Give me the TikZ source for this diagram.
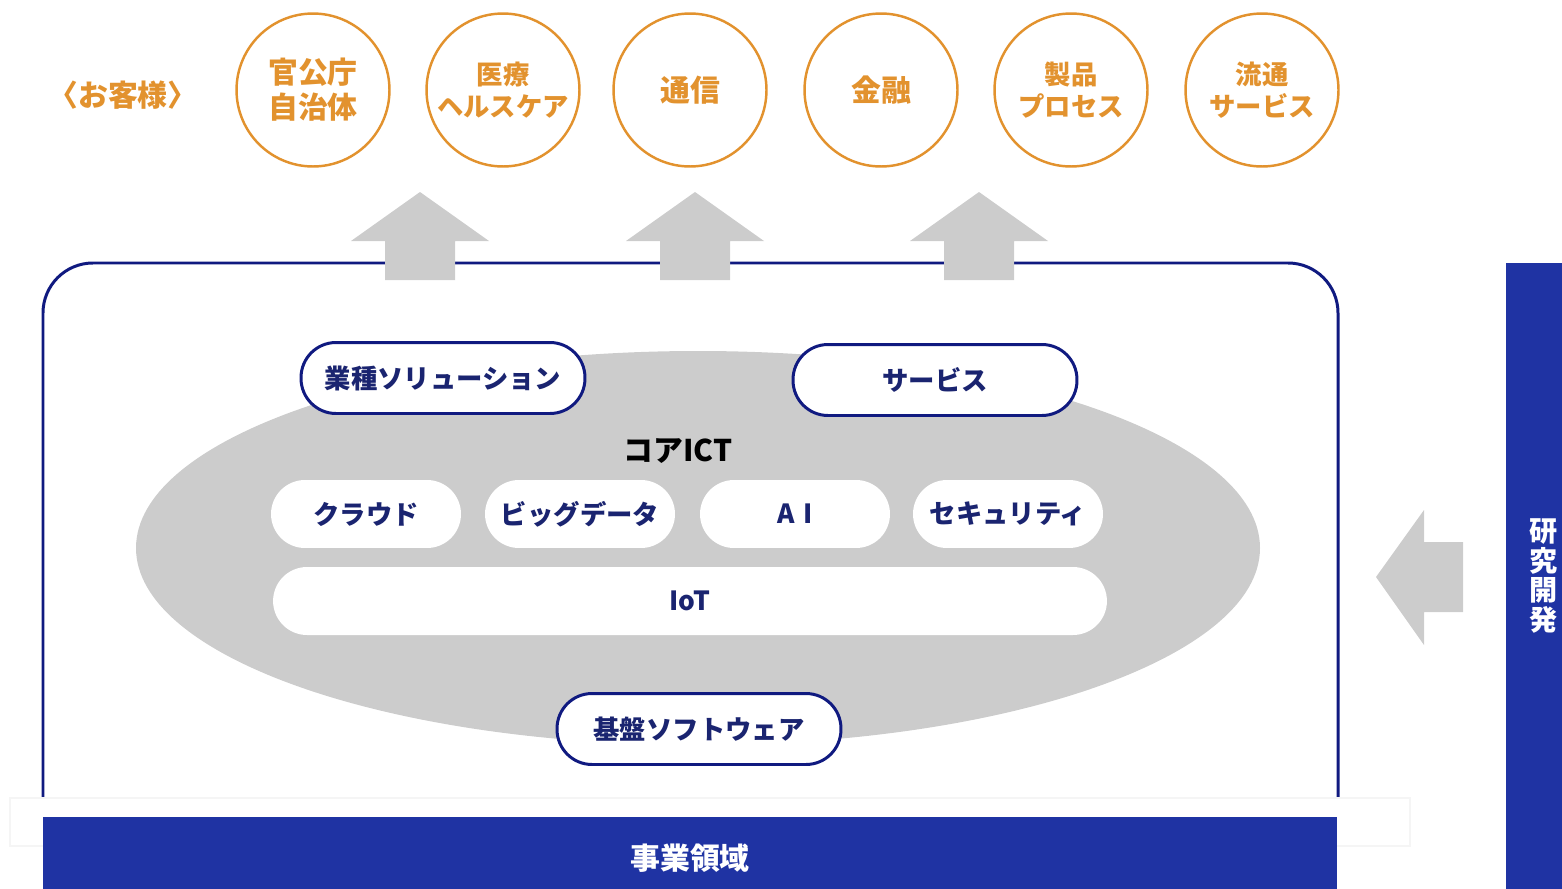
\documentclass[tikz,border=0pt]{standalone}
\usepackage{fontspec}
\setmainfont{Noto Sans CJK JP}
\definecolor{custorange}{RGB}{226, 146, 46}
\definecolor{coregray}{RGB}{204, 204, 204}
\definecolor{framenavy}{RGB}{16, 26, 128}
\definecolor{textnavy}{RGB}{26, 36, 112}
\definecolor{bandblue}{RGB}{31, 51, 163}
\usetikzlibrary{positioning}

\tikzset{
  custcircle/.style={circle, draw=custorange, line width=1.4pt, minimum size=3.06cm,
    align=center, font=\fontsize{17}{20}\selectfont\bfseries, text=custorange, inner sep=0pt},
  smallcirc/.style={custcircle, font=\fontsize{15}{18.5}\selectfont\bfseries},
  layerpill/.style={draw=framenavy, fill=white, line width=1.7pt, rounded corners=0.7cm,
    minimum width=5.68cm, minimum height=1.42cm, font=\fontsize{15}{18}\selectfont\bfseries, text=textnavy},
  corepill/.style={fill=white, rounded corners=0.68cm, minimum width=3.8cm, minimum height=1.36cm,
    font=\fontsize{15}{18}\selectfont\bfseries, text=textnavy},
  grayarrow/.style={fill=coregray}
}

\begin{document}
\begin{tikzpicture}[x=0.02cm, y=-0.02cm]
  \useasboundingbox (0,0) rectangle (1562,889);

  % Customers
  \node[font=\fontsize{17}{20}\selectfont\bfseries, text=custorange] (cust) at (123, 95) {〈お客様〉};
  \node[custcircle] (gov) at (313, 90) {官公庁\\自治体};
  \node[smallcirc] (med) at (503, 90) {医療\\ヘルスケア};
  \node[custcircle] (tel) at (690, 90) {通信};
  \node[custcircle] (fin) at (881, 90) {金融};
  \node[smallcirc] (mfg) at (1071, 90) {製品\\プロセス};
  \node[smallcirc] (dist) at (1262, 90) {流通\\サービス};

  % Core ICT ellipse
  \fill[coregray] (698, 548) ellipse [x radius=562, y radius=197];
  \node[font=\fontsize{17}{20}\selectfont\bfseries, text=black] (core) at (678, 451) {コアICT};

  \node[corepill] (cloud) at (366, 514) {クラウド};
  \node[corepill] (bigdata) at (580, 514) {ビッグデータ};
  \node[corepill] (ai) at (795, 514) {A\,\,I};
  \node[corepill] (sec) at (1008, 514) {セキュリティ};
  \node[corepill, minimum width=16.68cm] (iot) at (690, 601) {IoT};

  % Layers on the ellipse
  \node[layerpill] (solution) at (443, 378) {業種ソリューション};
  \node[layerpill] (service) at (935, 380) {サービス};
  \node[layerpill] (platform) at (699, 729) {基盤ソフトウェア};

  % Business domain frame
  \draw[framenavy, line width=1.7pt, rounded corners=1cm] (43, 797) -- (43, 263) -- (1338, 263) -- (1338, 797);

  % Up arrows to customers
  \foreach \ax in {420, 695, 979} {
    \fill[grayarrow] (\ax-35, 280) -- (\ax-35, 241) -- (\ax-69, 241) -- (\ax, 192)
      -- (\ax+69, 241) -- (\ax+35, 241) -- (\ax+35, 280) -- cycle;
  }

  % Business domain band
  \draw[black!4, line width=0.6pt] (10, 798) rectangle (1410, 846);
  \fill[bandblue] (43, 817) rectangle (1337, 889);
  \node[font=\fontsize{17}{20}\selectfont\bfseries, text=white] (domain) at (690, 858) {事業領域};

  % Research and development
  \fill[bandblue] (1506, 263) rectangle (1562, 889);
  \node[font=\fontsize{16}{17}\selectfont\bfseries, text=white, align=center, inner sep=0pt] (rnd) at (1544, 576) {研\\究\\開\\発};
  \fill[grayarrow] (1463, 542) -- (1424, 542) -- (1424, 510) -- (1376, 577)
    -- (1424, 645) -- (1424, 612) -- (1463, 612) -- cycle;
\end{tikzpicture}
\end{document}
